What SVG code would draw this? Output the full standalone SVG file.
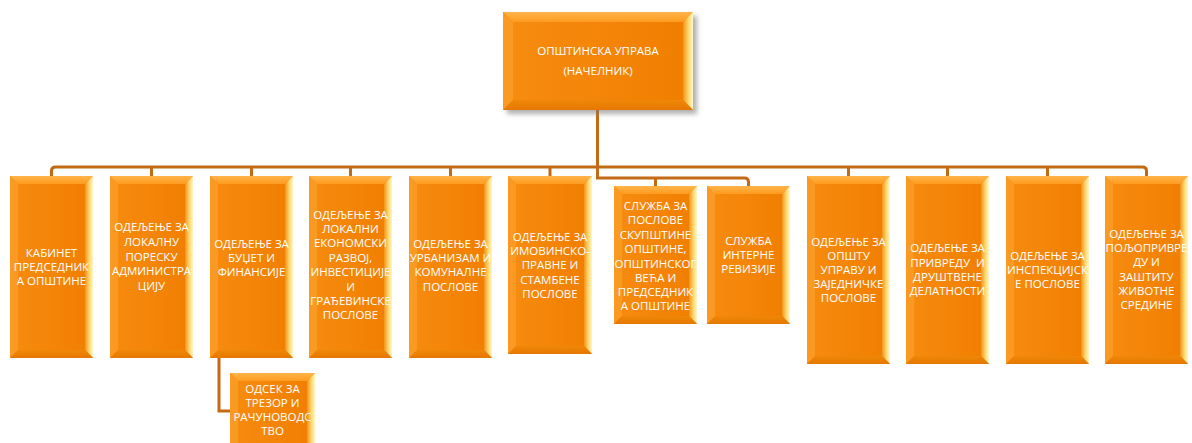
<svg xmlns="http://www.w3.org/2000/svg" width="1192" height="443" viewBox="0 0 1192 443">
<defs>
<linearGradient id="gFace" x1="0" y1="0" x2="1" y2="0"><stop offset="0" stop-color="#F78C10"/><stop offset="1" stop-color="#F07E00"/></linearGradient>
<linearGradient id="gTop" x1="0" y1="0" x2="0" y2="1"><stop offset="0" stop-color="#FFB54A"/><stop offset="1" stop-color="#FF9B20"/></linearGradient>
<linearGradient id="gRight" x1="0" y1="0" x2="1" y2="0"><stop offset="0" stop-color="#F39319"/><stop offset="0.55" stop-color="#FFD870"/><stop offset="1" stop-color="#FFF6CC"/></linearGradient>
<linearGradient id="gBot" x1="0" y1="0" x2="0" y2="1"><stop offset="0" stop-color="#F08808"/><stop offset="1" stop-color="#E57700"/></linearGradient>
<filter id="shadow" x="-10%" y="-10%" width="130%" height="140%"><feGaussianBlur stdDeviation="2.5"/></filter>
<style>
.face{fill:url(#gFace)}
.bt{fill:url(#gTop)}
.bl{fill:#FA9A22}
.br{fill:url(#gRight)}
.bb{fill:url(#gBot)}
.conn{fill:none;stroke:#C26A14;stroke-width:3}
.lbl{fill:#FFFFFF;font-family:"Open Sans","Noto Sans","DejaVu Sans",sans-serif;font-size:11.5px;text-anchor:middle}
</style>
</defs>
<rect width="1192" height="443" fill="#FFFFFF"/>

<g id="connectors">
<path class="conn" d="M51.5,176 V171 Q51.5,167 55.5,167 H1142.5 Q1146.5,167 1146.5,171 V176"/>
<path class="conn" d="M151.5,167 V176 M251.5,167 V176 M350.5,167 V176 M450.5,167 V176 M550,167 V176 M848.5,167 V176 M947.5,167 V176 M1047.5,167 V176"/>
<path class="conn" d="M597.5,110 V178 H744.5 Q748.5,178 748.5,182 V186 M655.5,178 V186"/>
<path class="conn" d="M219,358 V411 H230"/>
</g>

<g id="n-top">
<rect x="507" y="16" width="190" height="98" fill="#7a7a7a" opacity="0.6" filter="url(#shadow)"/>
<rect class="face" x="503" y="12" width="190" height="98"/>
<polygon class="bt" points="503,12 693,12 683,22 513,22"/>
<polygon class="bl" points="503,12 513,22 513,100 503,110"/>
<polygon class="br" points="693,12 693,110 683,100 683,22"/>
<polygon class="bb" points="503,110 693,110 683,100 513,100"/>
<text class="lbl" x="598" y="55">ОПШТИНСКА УПРАВА</text>
<text class="lbl" x="598" y="75">(НАЧЕЛНИК)</text>
</g>

<g id="n1">
<rect class="face" x="10" y="176" width="83" height="182"/>
<polygon class="bt" points="10,176 93,176 85,184 18,184"/>
<polygon class="bl" points="10,176 18,184 18,350 10,358"/>
<polygon class="br" points="93,176 93,358 85,350 85,184"/>
<polygon class="bb" points="10,358 93,358 85,350 18,350"/>
<text class="lbl"><tspan x="51.5" y="257">КАБИНЕТ</tspan><tspan x="51.5" y="271">ПРЕДСЕДНИК</tspan><tspan x="51.5" y="285">А ОПШТИНЕ</tspan></text>
</g>

<g id="n2">
<rect class="face" x="110" y="176" width="83" height="182"/>
<polygon class="bt" points="110,176 193,176 185,184 118,184"/>
<polygon class="bl" points="110,176 118,184 118,350 110,358"/>
<polygon class="br" points="193,176 193,358 185,350 185,184"/>
<polygon class="bb" points="110,358 193,358 185,350 118,350"/>
<text class="lbl"><tspan x="151.5" y="231">ОДЕЉЕЊЕ ЗА</tspan><tspan x="151.5" y="246">ЛОКАЛНУ</tspan><tspan x="151.5" y="261">ПОРЕСКУ</tspan><tspan x="151.5" y="275">АДМИНИСТРА</tspan><tspan x="151.5" y="290">ЦИЈУ</tspan></text>
</g>

<g id="n3">
<rect class="face" x="210" y="176" width="83" height="182"/>
<polygon class="bt" points="210,176 293,176 285,184 218,184"/>
<polygon class="bl" points="210,176 218,184 218,350 210,358"/>
<polygon class="br" points="293,176 293,358 285,350 285,184"/>
<polygon class="bb" points="210,358 293,358 285,350 218,350"/>
<text class="lbl"><tspan x="251.5" y="248">ОДЕЉЕЊЕ ЗА</tspan><tspan x="251.5" y="262">БУЏЕТ И</tspan><tspan x="251.5" y="276">ФИНАНСИЈЕ</tspan></text>
</g>

<g id="n4">
<rect class="face" x="309" y="176" width="83" height="182"/>
<polygon class="bt" points="309,176 392,176 384,184 317,184"/>
<polygon class="bl" points="309,176 317,184 317,350 309,358"/>
<polygon class="br" points="392,176 392,358 384,350 384,184"/>
<polygon class="bb" points="309,358 392,358 384,350 317,350"/>
<text class="lbl"><tspan x="350.5" y="219">ОДЕЉЕЊЕ ЗА</tspan><tspan x="350.5" y="233">ЛОКАЛНИ</tspan><tspan x="350.5" y="247">ЕКОНОМСКИ</tspan><tspan x="350.5" y="262">РАЗВОЈ,</tspan><tspan x="350.5" y="276">ИНВЕСТИЦИЈЕ</tspan><tspan x="350.5" y="291">И</tspan><tspan x="350.5" y="305">ГРАЂЕВИНСКЕ</tspan><tspan x="350.5" y="319">ПОСЛОВЕ</tspan></text>
</g>

<g id="n5">
<rect class="face" x="409" y="176" width="83" height="182"/>
<polygon class="bt" points="409,176 492,176 484,184 417,184"/>
<polygon class="bl" points="409,176 417,184 417,350 409,358"/>
<polygon class="br" points="492,176 492,358 484,350 484,184"/>
<polygon class="bb" points="409,358 492,358 484,350 417,350"/>
<text class="lbl"><tspan x="450.5" y="248">ОДЕЉЕЊЕ ЗА</tspan><tspan x="450.5" y="262">УРБАНИЗАМ И</tspan><tspan x="450.5" y="276">КОМУНАЛНЕ</tspan><tspan x="450.5" y="291">ПОСЛОВЕ</tspan></text>
</g>

<g id="n6">
<rect class="face" x="508" y="176" width="84" height="178"/>
<polygon class="bt" points="508,176 592,176 584,184 516,184"/>
<polygon class="bl" points="508,176 516,184 516,346 508,354"/>
<polygon class="br" points="592,176 592,354 584,346 584,184"/>
<polygon class="bb" points="508,354 592,354 584,346 516,346"/>
<text class="lbl"><tspan x="550" y="241">ОДЕЉЕЊЕ ЗА</tspan><tspan x="550" y="255">ИМОВИНСКО-</tspan><tspan x="550" y="269">ПРАВНЕ И</tspan><tspan x="550" y="284">СТАМБЕНЕ</tspan><tspan x="550" y="298">ПОСЛОВЕ</tspan></text>
</g>

<g id="n7">
<rect class="face" x="614" y="186" width="83" height="138"/>
<polygon class="bt" points="614,186 697,186 689,194 622,194"/>
<polygon class="bl" points="614,186 622,194 622,316 614,324"/>
<polygon class="br" points="697,186 697,324 689,316 689,194"/>
<polygon class="bb" points="614,324 697,324 689,316 622,316"/>
<text class="lbl"><tspan x="655.5" y="210">СЛУЖБА ЗА</tspan><tspan x="655.5" y="224">ПОСЛОВЕ</tspan><tspan x="655.5" y="239">СКУПШТИНЕ</tspan><tspan x="655.5" y="253">ОПШТИНЕ,</tspan><tspan x="655.5" y="268">ОПШТИНСКОГ</tspan><tspan x="655.5" y="282">ВЕЋА И</tspan><tspan x="655.5" y="296">ПРЕДСЕДНИК</tspan><tspan x="655.5" y="310">А ОПШТИНЕ</tspan></text>
</g>

<g id="n8">
<rect class="face" x="707" y="186" width="83" height="138"/>
<polygon class="bt" points="707,186 790,186 782,194 715,194"/>
<polygon class="bl" points="707,186 715,194 715,316 707,324"/>
<polygon class="br" points="790,186 790,324 782,316 782,194"/>
<polygon class="bb" points="707,324 790,324 782,316 715,316"/>
<text class="lbl"><tspan x="748.5" y="245">СЛУЖБА</tspan><tspan x="748.5" y="259">ИНТЕРНЕ</tspan><tspan x="748.5" y="273">РЕВИЗИЈЕ</tspan></text>
</g>

<g id="n9">
<rect class="face" x="807" y="176" width="83" height="188"/>
<polygon class="bt" points="807,176 890,176 882,184 815,184"/>
<polygon class="bl" points="807,176 815,184 815,356 807,364"/>
<polygon class="br" points="890,176 890,364 882,356 882,184"/>
<polygon class="bb" points="807,364 890,364 882,356 815,356"/>
<text class="lbl"><tspan x="848.5" y="246">ОДЕЉЕЊЕ ЗА</tspan><tspan x="848.5" y="260">ОПШТУ</tspan><tspan x="848.5" y="274">УПРАВУ И</tspan><tspan x="848.5" y="288">ЗАЈЕДНИЧКЕ</tspan><tspan x="848.5" y="302">ПОСЛОВЕ</tspan></text>
</g>

<g id="n10">
<rect class="face" x="906" y="176" width="83" height="188"/>
<polygon class="bt" points="906,176 989,176 981,184 914,184"/>
<polygon class="bl" points="906,176 914,184 914,356 906,364"/>
<polygon class="br" points="989,176 989,364 981,356 981,184"/>
<polygon class="bb" points="906,364 989,364 981,356 914,356"/>
<text class="lbl" xml:space="preserve"><tspan x="947.5" y="252">ОДЕЉЕЊЕ ЗА</tspan><tspan x="947.5" y="267">ПРИВРЕДУ  И</tspan><tspan x="947.5" y="281">ДРУШТВЕНЕ</tspan><tspan x="947.5" y="295">ДЕЛАТНОСТИ</tspan></text>
</g>

<g id="n11">
<rect class="face" x="1006" y="176" width="83" height="188"/>
<polygon class="bt" points="1006,176 1089,176 1081,184 1014,184"/>
<polygon class="bl" points="1006,176 1014,184 1014,356 1006,364"/>
<polygon class="br" points="1089,176 1089,364 1081,356 1081,184"/>
<polygon class="bb" points="1006,364 1089,364 1081,356 1014,356"/>
<text class="lbl"><tspan x="1047.5" y="260">ОДЕЉЕЊЕ ЗА</tspan><tspan x="1047.5" y="274">ИНСПЕКЦИЈСК</tspan><tspan x="1047.5" y="288">Е ПОСЛОВЕ</tspan></text>
</g>

<g id="n12">
<rect class="face" x="1105" y="176" width="83" height="188"/>
<polygon class="bt" points="1105,176 1188,176 1180,184 1113,184"/>
<polygon class="bl" points="1105,176 1113,184 1113,356 1105,364"/>
<polygon class="br" points="1188,176 1188,364 1180,356 1180,184"/>
<polygon class="bb" points="1105,364 1188,364 1180,356 1113,356"/>
<text class="lbl"><tspan x="1146.5" y="238">ОДЕЉЕЊЕ ЗА</tspan><tspan x="1146.5" y="252">ПОЉОПРИВРЕ</tspan><tspan x="1146.5" y="266">ДУ И</tspan><tspan x="1146.5" y="281">ЗАШТИТУ</tspan><tspan x="1146.5" y="295">ЖИВОТНЕ</tspan><tspan x="1146.5" y="309">СРЕДИНЕ</tspan></text>
</g>

<g id="n13">
<rect class="face" x="230" y="373" width="85" height="80"/>
<polygon class="bt" points="230,373 315,373 307,381 238,381"/>
<polygon class="bl" points="230,373 238,381 238,445 230,453"/>
<polygon class="br" points="315,373 315,453 307,445 307,381"/>
<text class="lbl"><tspan x="272.5" y="393">ОДСЕК ЗА</tspan><tspan x="272.5" y="407">ТРЕЗОР И</tspan><tspan x="272.5" y="421">РАЧУНОВОДС</tspan><tspan x="272.5" y="435">ТВО</tspan></text>
</g>
</svg>
